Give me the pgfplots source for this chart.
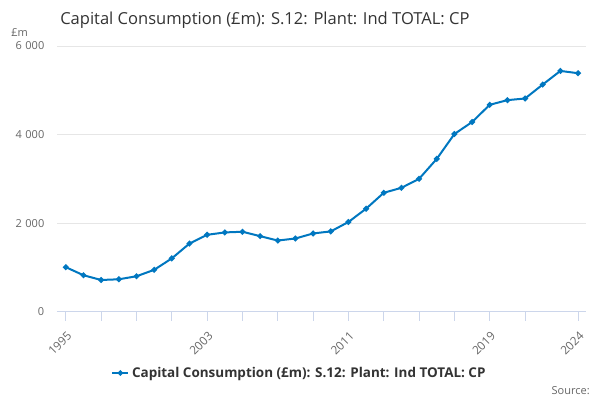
\documentclass[border=0pt]{standalone}
\usepackage{pgfplots}
\pgfplotsset{compat=1.18}
\usepackage{fontspec}
\setmainfont{Open Sans}
\definecolor{lineblue}{RGB}{0,119,192}
\definecolor{axisgray}{HTML}{CCD6EB}
\definecolor{gridgray}{HTML}{E6E6E6}
\definecolor{labgray}{HTML}{666666}
\definecolor{titlegray}{HTML}{333333}
\begin{document}
\begin{tikzpicture}
\path[use as bounding box] (0pt,0pt) rectangle (450pt,300pt);
\node[anchor=base west, font=\fontsize{12.4}{15}\selectfont, text=titlegray, inner sep=0pt] at (45pt,281.5pt) {Capital Consumption (£m): S.12: Plant: Ind TOTAL: CP};
\node[anchor=base west, font=\fontsize{8.25}{10}\selectfont, text=labgray, inner sep=0pt] at (8.25pt,272.5pt) {£m};
\node[anchor=base east, font=\fontsize{8.25}{10}\selectfont, text=labgray, inner sep=0pt] at (442.5pt,4.5pt) {Source:};
\begin{axis}[
  at={(42.75pt,66pt)}, anchor=origin,
  scale only axis, width=396.75pt, height=199.5pt,
  xmin=1994.5, xmax=2024.45, ymin=0, ymax=6000,
  axis x line*=bottom, axis y line*=left,
  y axis line style={draw=none},
  x axis line style={draw=axisgray, line width=0.75pt},
  xtick={1995,1997,...,2021,2024},
  xticklabels={1995,,,,2003,,,,2011,,,,2019,,2024},
  xtick align=outside,
  x tick style={draw=axisgray, line width=0.75pt},
  major tick length=6.75pt,
  ytick={0,2000,4000,6000},
  y tick style={draw=none},
  ymajorgrids, grid style={draw=gridgray, line width=0.75pt},
  scaled y ticks=false,
  yticklabel={\pgfmathparse{int(\tick)}\ifnum\pgfmathresult<1000 \pgfmathresult\else\pgfmathparse{int(\tick/1000)}\pgfmathresult\hspace{2.6pt}000\fi},
  yticklabel style={font=\fontsize{8.25}{10}\selectfont, text=labgray, anchor=east, xshift=-6pt},
  xticklabel style={font=\fontsize{8.8}{10}\selectfont, text=labgray, rotate=45, anchor=north east, xshift=-1.5pt, yshift=-2pt},
  legend style={at={(rel axis cs:0.459,-0.229)}, anchor=center, draw=none, fill=none,
    font=\bfseries\fontsize{10.1}{12}\selectfont, text=titlegray},
  legend image code/.code={\draw[lineblue, line width=1.5pt] (0pt,0pt) -- (12pt,0pt); \fill[lineblue] (6pt,0pt) circle (1.2pt);},
]
\addplot[color=lineblue, line width=1.5pt, mark=*, mark size=1.35pt, mark options={draw=none, fill=lineblue}] coordinates {
(1995,1011) (1996,829) (1997,722) (1998,738) (1999,806) (2000,951)
(2001,1209) (2002,1544) (2003,1741) (2004,1795) (2005,1810) (2006,1711)
(2007,1612) (2008,1658) (2009,1772) (2010,1818) (2011,2030) (2012,2330)
(2013,2689) (2014,2801) (2015,3004) (2016,3453) (2017,4015) (2018,4285)
(2019,4674) (2020,4779) (2021,4816) (2022,5131) (2023,5438) (2024,5386)
};
\addlegendentry{Capital Consumption (£m): S.12: Plant: Ind TOTAL: CP}
\end{axis}
\end{tikzpicture}
\end{document}
